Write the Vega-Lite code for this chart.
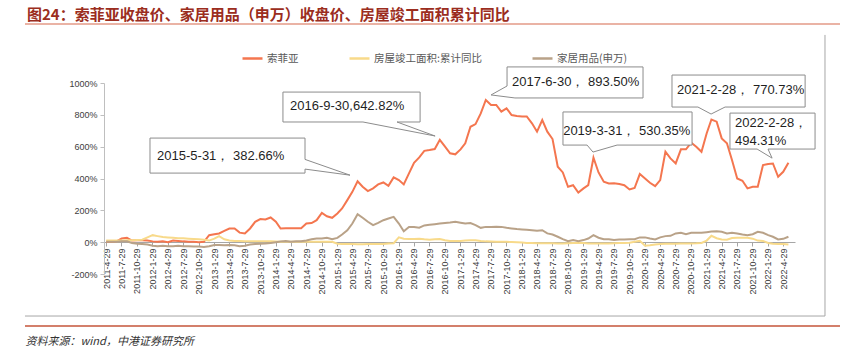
{
"$schema":"https://vega.github.io/schema/vega-lite/v6.json",
"width":691,"height":191,"autosize":"none",
"padding":{"left":104,"top":83,"right":48,"bottom":77},
"background":"#ffffff",
"config":{"view":{"stroke":null},"font":"Liberation Sans"},
"title":{"text":"图24：索菲亚收盘价、家居用品（申万）收盘价、房屋竣工面积累计同比","anchor":"start","frame":"group","dx":-77,"font":"Noto Sans CJK SC","fontSize":15,"fontWeight":"bold","color":"#9B2D20","offset":0},
"datasets":{
"main":[
{"date":"2011-04-30","s":2,"f":10,"j":2},
{"date":"2011-05-31","s":2,"f":10,"j":2},
{"date":"2011-06-30","s":5,"f":10,"j":3},
{"date":"2011-07-31","s":23,"f":10,"j":5},
{"date":"2011-08-31","s":27,"f":12,"j":5},
{"date":"2011-09-30","s":10,"f":12,"j":-5},
{"date":"2011-10-31","s":12,"f":14,"j":-10},
{"date":"2011-11-30","s":12,"f":15,"j":-12},
{"date":"2011-12-31","s":10,"f":30,"j":-15},
{"date":"2012-01-31","s":5,"f":44,"j":-22},
{"date":"2012-02-29","s":2,"f":38,"j":-25},
{"date":"2012-03-31","s":5,"f":32,"j":-23},
{"date":"2012-04-30","s":0,"f":30,"j":-25},
{"date":"2012-05-31","s":10,"f":28,"j":-25},
{"date":"2012-06-30","s":8,"f":25,"j":-22},
{"date":"2012-07-31","s":5,"f":24,"j":-25},
{"date":"2012-08-31","s":3,"f":22,"j":-26},
{"date":"2012-09-30","s":2,"f":20,"j":-27},
{"date":"2012-10-31","s":0,"f":18,"j":-28},
{"date":"2012-11-30","s":2,"f":15,"j":-30},
{"date":"2012-12-31","s":44,"f":10,"j":-25},
{"date":"2013-01-31","s":50,"f":22,"j":-18},
{"date":"2013-02-28","s":55,"f":38,"j":-18},
{"date":"2013-03-31","s":71,"f":18,"j":-20},
{"date":"2013-04-30","s":86,"f":10,"j":-18},
{"date":"2013-05-31","s":86,"f":8,"j":-20},
{"date":"2013-06-30","s":60,"f":7,"j":-25},
{"date":"2013-07-31","s":55,"f":6,"j":-22},
{"date":"2013-08-31","s":86,"f":6,"j":-15},
{"date":"2013-09-30","s":128,"f":6,"j":-12},
{"date":"2013-10-31","s":145,"f":5,"j":-10},
{"date":"2013-11-30","s":143,"f":5,"j":-8},
{"date":"2013-12-31","s":155,"f":5,"j":-5},
{"date":"2014-01-31","s":128,"f":4,"j":0},
{"date":"2014-02-28","s":86,"f":3,"j":5},
{"date":"2014-03-31","s":88,"f":3,"j":7},
{"date":"2014-04-30","s":88,"f":3,"j":2},
{"date":"2014-05-31","s":87,"f":2,"j":5},
{"date":"2014-06-30","s":88,"f":2,"j":6},
{"date":"2014-07-31","s":117,"f":2,"j":11},
{"date":"2014-08-31","s":120,"f":2,"j":18},
{"date":"2014-09-30","s":138,"f":2,"j":23},
{"date":"2014-10-31","s":184,"f":2,"j":23},
{"date":"2014-11-30","s":163,"f":2,"j":27},
{"date":"2014-12-31","s":153,"f":2,"j":18},
{"date":"2015-01-31","s":180,"f":-10,"j":27},
{"date":"2015-02-28","s":212,"f":-12,"j":48},
{"date":"2015-03-31","s":264,"f":-12,"j":75},
{"date":"2015-04-30","s":316,"f":-12,"j":117},
{"date":"2015-05-31","s":382.66,"f":-13,"j":176},
{"date":"2015-06-30","s":348,"f":-13,"j":153},
{"date":"2015-07-31","s":321,"f":-12,"j":128},
{"date":"2015-08-31","s":338,"f":-12,"j":107},
{"date":"2015-09-30","s":363,"f":-12,"j":121},
{"date":"2015-10-31","s":375,"f":-11,"j":138},
{"date":"2015-11-30","s":354,"f":-8,"j":149},
{"date":"2015-12-31","s":407,"f":-7,"j":159},
{"date":"2016-01-31","s":390,"f":30,"j":117},
{"date":"2016-02-29","s":363,"f":22,"j":69},
{"date":"2016-03-31","s":432,"f":20,"j":96},
{"date":"2016-04-30","s":499,"f":20,"j":96},
{"date":"2016-05-31","s":533,"f":22,"j":91},
{"date":"2016-06-30","s":574,"f":18,"j":105},
{"date":"2016-07-31","s":579,"f":15,"j":109},
{"date":"2016-08-31","s":585,"f":18,"j":113},
{"date":"2016-09-30","s":642.82,"f":20,"j":117},
{"date":"2016-10-31","s":600,"f":12,"j":121},
{"date":"2016-11-30","s":558,"f":8,"j":124},
{"date":"2016-12-31","s":552,"f":7,"j":128},
{"date":"2017-01-31","s":583,"f":8,"j":122},
{"date":"2017-02-28","s":621,"f":10,"j":117},
{"date":"2017-03-31","s":725,"f":12,"j":120},
{"date":"2017-04-30","s":742,"f":12,"j":107},
{"date":"2017-05-31","s":809,"f":8,"j":90},
{"date":"2017-06-30","s":893.5,"f":5,"j":96},
{"date":"2017-07-31","s":862,"f":4,"j":96},
{"date":"2017-08-31","s":862,"f":3,"j":97},
{"date":"2017-09-30","s":820,"f":2,"j":96},
{"date":"2017-10-31","s":841,"f":2,"j":90},
{"date":"2017-11-30","s":799,"f":1,"j":86},
{"date":"2017-12-31","s":793,"f":0,"j":82},
{"date":"2018-01-31","s":790,"f":-2,"j":80},
{"date":"2018-02-28","s":790,"f":-5,"j":78},
{"date":"2018-03-31","s":747,"f":-6,"j":75},
{"date":"2018-04-30","s":694,"f":-7,"j":71},
{"date":"2018-05-31","s":767,"f":-7,"j":75},
{"date":"2018-06-30","s":694,"f":-7,"j":55},
{"date":"2018-07-31","s":648,"f":-7,"j":48},
{"date":"2018-08-31","s":474,"f":-8,"j":34},
{"date":"2018-09-30","s":438,"f":-8,"j":19},
{"date":"2018-10-31","s":348,"f":-7,"j":6},
{"date":"2018-11-30","s":358,"f":-6,"j":13},
{"date":"2018-12-31","s":312,"f":-5,"j":6},
{"date":"2019-01-31","s":338,"f":-5,"j":13},
{"date":"2019-02-28","s":358,"f":-8,"j":23},
{"date":"2019-03-31","s":530.35,"f":-8,"j":44},
{"date":"2019-04-30","s":438,"f":-8,"j":28},
{"date":"2019-05-31","s":380,"f":-8,"j":19},
{"date":"2019-06-30","s":369,"f":-8,"j":19},
{"date":"2019-07-31","s":370,"f":-7,"j":13},
{"date":"2019-08-31","s":366,"f":-6,"j":17},
{"date":"2019-09-30","s":358,"f":-6,"j":17},
{"date":"2019-10-31","s":331,"f":-4,"j":19},
{"date":"2019-11-30","s":340,"f":2,"j":19},
{"date":"2019-12-31","s":428,"f":8,"j":30},
{"date":"2020-01-31","s":400,"f":-23,"j":30},
{"date":"2020-02-29","s":373,"f":-20,"j":23},
{"date":"2020-03-31","s":352,"f":-15,"j":17},
{"date":"2020-04-30","s":390,"f":-12,"j":30},
{"date":"2020-05-31","s":568,"f":-10,"j":38},
{"date":"2020-06-30","s":526,"f":-10,"j":40},
{"date":"2020-07-31","s":495,"f":-10,"j":55},
{"date":"2020-08-31","s":583,"f":-9,"j":59},
{"date":"2020-09-30","s":583,"f":-9,"j":50},
{"date":"2020-10-31","s":625,"f":-8,"j":59},
{"date":"2020-11-30","s":600,"f":-7,"j":59},
{"date":"2020-12-31","s":568,"f":-5,"j":59},
{"date":"2021-01-31","s":684,"f":10,"j":63},
{"date":"2021-02-28","s":770.73,"f":40,"j":67},
{"date":"2021-03-31","s":757,"f":25,"j":69},
{"date":"2021-04-30","s":652,"f":17,"j":65},
{"date":"2021-05-31","s":621,"f":15,"j":55},
{"date":"2021-06-30","s":516,"f":26,"j":59},
{"date":"2021-07-31","s":400,"f":27,"j":55},
{"date":"2021-08-31","s":386,"f":27,"j":48},
{"date":"2021-09-30","s":338,"f":27,"j":44},
{"date":"2021-10-31","s":348,"f":22,"j":50},
{"date":"2021-11-30","s":348,"f":10,"j":65},
{"date":"2021-12-31","s":484,"f":8,"j":59},
{"date":"2022-01-31","s":491,"f":-5,"j":44},
{"date":"2022-02-28","s":494.31,"f":-10,"j":34},
{"date":"2022-03-31","s":411,"f":-12,"j":17},
{"date":"2022-04-30","s":442,"f":-12,"j":21},
{"date":"2022-05-31","s":499,"f":-15,"j":34}
],
"boxes":[
{"date":"2012-01-15","date2":"2014-07-23","value":434,"value2":654},
{"date":"2014-03-14","date2":"2016-06-05","value":755,"value2":943},
{"date":"2017-11-03","date2":"2020-01-19","value":906,"value2":1101},
{"date":"2018-10-01","date2":"2020-11-05","value":610,"value2":818},
{"date":"2020-07-09","date2":"2022-09-07","value":849,"value2":1050},
{"date":"2021-06-18","date2":"2022-11-05","value":585,"value2":811}
],
"callouts":[
{"id":1,"k":1,"date":"2012-01-15","value":654},
{"id":1,"k":2,"date":"2014-07-23","value":654},
{"id":1,"k":3,"date":"2014-07-23","value":520},
{"id":1,"k":4,"date":"2015-04-16","value":421},
{"id":1,"k":5,"date":"2014-07-23","value":459},
{"id":1,"k":6,"date":"2014-07-23","value":434},
{"id":1,"k":7,"date":"2012-01-15","value":434},
{"id":1,"k":8,"date":"2012-01-15","value":654},
{"id":2,"k":1,"date":"2014-03-14","value":943},
{"id":2,"k":2,"date":"2016-06-05","value":943},
{"id":2,"k":3,"date":"2016-06-05","value":755},
{"id":2,"k":4,"date":"2016-01-20","value":755},
{"id":2,"k":5,"date":"2016-09-02","value":667},
{"id":2,"k":6,"date":"2015-07-02","value":755},
{"id":2,"k":7,"date":"2014-03-14","value":755},
{"id":2,"k":8,"date":"2014-03-14","value":943},
{"id":3,"k":1,"date":"2017-11-03","value":1101},
{"id":3,"k":2,"date":"2020-01-19","value":1101},
{"id":3,"k":3,"date":"2020-01-19","value":906},
{"id":3,"k":4,"date":"2017-12-20","value":906},
{"id":3,"k":5,"date":"2017-07-31","value":925},
{"id":3,"k":6,"date":"2017-11-03","value":981},
{"id":3,"k":7,"date":"2017-11-03","value":1101},
{"id":4,"k":1,"date":"2018-10-01","value":818},
{"id":4,"k":2,"date":"2020-11-05","value":818},
{"id":4,"k":3,"date":"2020-11-05","value":610},
{"id":4,"k":4,"date":"2019-08-18","value":610},
{"id":4,"k":5,"date":"2019-03-28","value":566},
{"id":4,"k":6,"date":"2019-02-21","value":610},
{"id":4,"k":7,"date":"2018-10-01","value":610},
{"id":4,"k":8,"date":"2018-10-01","value":818},
{"id":5,"k":1,"date":"2020-07-09","value":1050},
{"id":5,"k":2,"date":"2022-09-07","value":1050},
{"id":5,"k":3,"date":"2022-09-07","value":849},
{"id":5,"k":4,"date":"2021-05-20","value":849},
{"id":5,"k":5,"date":"2021-02-26","value":805},
{"id":5,"k":6,"date":"2020-12-10","value":849},
{"id":5,"k":7,"date":"2020-07-09","value":849},
{"id":5,"k":8,"date":"2020-07-09","value":1050},
{"id":6,"k":1,"date":"2021-06-18","value":811},
{"id":6,"k":2,"date":"2022-11-05","value":811},
{"id":6,"k":3,"date":"2022-11-05","value":585},
{"id":6,"k":4,"date":"2022-01-30","value":585},
{"id":6,"k":5,"date":"2022-02-23","value":528},
{"id":6,"k":6,"date":"2021-11-26","value":585},
{"id":6,"k":7,"date":"2021-06-18","value":585},
{"id":6,"k":8,"date":"2021-06-18","value":811}
],
"labels":[
{"date":"2012-02-26","value":541,"label":"2015-5-31， 382.66%"},
{"date":"2014-04-25","value":855,"label":"2016-9-30,642.82%"},
{"date":"2017-12-03","value":1006,"label":"2017-6-30， 893.50%"},
{"date":"2018-10-02","value":700,"label":"2019-3-31， 530.35%"},
{"date":"2020-08-08","value":956,"label":"2021-2-28， 770.73%"},
{"date":"2021-07-18","value":748,"label":"2022-2-28，"},
{"date":"2021-07-18","value":635,"label":"494.31%"}
]
},
"encoding":{
"x":{"field":"date","type":"temporal",
"scale":{"type":"utc","domain":[{"year":2011,"month":4,"date":17,"utc":true},{"year":2022,"month":7,"date":9,"utc":true}]},
"axis":{"orient":"bottom","offset":-32,
"values":[{"year":2011,"month":4,"date":29,"utc":true},{"year":2011,"month":7,"date":29,"utc":true},{"year":2011,"month":10,"date":29,"utc":true},
{"year":2012,"month":1,"date":29,"utc":true},{"year":2012,"month":4,"date":29,"utc":true},{"year":2012,"month":7,"date":29,"utc":true},{"year":2012,"month":10,"date":29,"utc":true},
{"year":2013,"month":1,"date":29,"utc":true},{"year":2013,"month":4,"date":29,"utc":true},{"year":2013,"month":7,"date":29,"utc":true},{"year":2013,"month":10,"date":29,"utc":true},
{"year":2014,"month":1,"date":29,"utc":true},{"year":2014,"month":4,"date":29,"utc":true},{"year":2014,"month":7,"date":29,"utc":true},{"year":2014,"month":10,"date":29,"utc":true},
{"year":2015,"month":1,"date":29,"utc":true},{"year":2015,"month":4,"date":29,"utc":true},{"year":2015,"month":7,"date":29,"utc":true},{"year":2015,"month":10,"date":29,"utc":true},
{"year":2016,"month":1,"date":29,"utc":true},{"year":2016,"month":4,"date":29,"utc":true},{"year":2016,"month":7,"date":29,"utc":true},{"year":2016,"month":10,"date":29,"utc":true},
{"year":2017,"month":1,"date":29,"utc":true},{"year":2017,"month":4,"date":29,"utc":true},{"year":2017,"month":7,"date":29,"utc":true},{"year":2017,"month":10,"date":29,"utc":true},
{"year":2018,"month":1,"date":29,"utc":true},{"year":2018,"month":4,"date":29,"utc":true},{"year":2018,"month":7,"date":29,"utc":true},{"year":2018,"month":10,"date":29,"utc":true},
{"year":2019,"month":1,"date":29,"utc":true},{"year":2019,"month":4,"date":29,"utc":true},{"year":2019,"month":7,"date":29,"utc":true},{"year":2019,"month":10,"date":29,"utc":true},
{"year":2020,"month":1,"date":29,"utc":true},{"year":2020,"month":4,"date":29,"utc":true},{"year":2020,"month":7,"date":29,"utc":true},{"year":2020,"month":10,"date":29,"utc":true},
{"year":2021,"month":1,"date":29,"utc":true},{"year":2021,"month":4,"date":29,"utc":true},{"year":2021,"month":7,"date":29,"utc":true},{"year":2021,"month":10,"date":29,"utc":true},
{"year":2022,"month":1,"date":29,"utc":true},{"year":2022,"month":4,"date":29,"utc":true}],
"labelExpr":"utcFormat(datum.value,'%Y-%-m-%-d')","labelAngle":-90,"labelFontSize":9,"labelColor":"#404040","labelPadding":2,"labelOverlap":false,"labelBound":false,"labelFlush":false,
"tickSize":4,"tickColor":"#A6A6A6","domainColor":"#A6A6A6","grid":false,
"title":"资料来源：wind，中港证券研究所","titleX":-79,"titleY":99,"titleAlign":"left","titleBaseline":"middle","titleAngle":0,
"titleFont":"Noto Sans CJK SC","titleFontSize":11,"titleFontStyle":"italic","titleFontWeight":"normal","titleColor":"#333333"}},
"y":{"field":"value","type":"quantitative","scale":{"domain":[-200,1000],"nice":false,"zero":false},
"axis":{"values":[-200,0,200,400,600,800,1000],"labelExpr":"datum.value+'%'","labelFontSize":9,"labelColor":"#404040","labelPadding":3,"tickSize":4,"tickColor":"#BFBFBF","domainColor":"#BFBFBF","grid":false,"title":null}}
},
"layer":[
{"data":{"values":[{"date":"2010-01-03","date2":"2023-04-02","value":1371}]},"mark":{"type":"rule","color":"#E39A87","strokeWidth":1.5},"encoding":{"x2":{"field":"date2"}}},
{"data":{"values":[{"date":"2010-01-03","date2":"2023-04-02","value":-527}]},"mark":{"type":"rule","color":"#C4553A","strokeWidth":1.5},"encoding":{"x2":{"field":"date2"}}},
{"data":{"values":[{"date":"2010-01-03","date2":"2023-01-03","value":-464}]},"mark":{"type":"rule","color":"#A6A6A6","strokeWidth":1}, "encoding":{"x2":{"field":"date2"}}},
{"data":{"values":[{"date":"2023-01-03","value":-464,"value2":1302}]},"mark":{"type":"rule","color":"#A6A6A6","strokeWidth":1},"encoding":{"y2":{"field":"value2"}}},
{"data":{"name":"main"},"transform":[{"fold":["s","f","j"],"as":["series","value"]}],
"mark":{"type":"line","strokeWidth":2},
"encoding":{"color":{"field":"series","type":"nominal","scale":{"domain":["s","f","j"],"range":["#F4764F","#F8DA8A","#B9A288"]},
"legend":{"orient":"none","legendX":137,"legendY":-36,"direction":"horizontal","title":null,"symbolType":"stroke","symbolSize":400,"symbolStrokeWidth":2.5,"labelFont":"Noto Sans CJK SC","labelFontSize":10.5,"labelColor":"#595959","columnPadding":45,"labelOffset":3,"padding":0,
"labelExpr":"datum.label=='s'?'索菲亚':datum.label=='f'?'房屋竣工面积:累计同比':'家居用品(申万)'"}}}},
{"data":{"name":"boxes"},"mark":{"type":"rect","fill":"#ffffff"},"encoding":{"x2":{"field":"date2"},"y2":{"field":"value2"}}},
{"data":{"name":"callouts"},"mark":{"type":"line","color":"#8C8C8C","strokeWidth":1},"encoding":{"detail":{"field":"id","type":"nominal"},"order":{"field":"k","type":"quantitative"}}},
{"data":{"name":"labels"},"mark":{"type":"text","align":"left","baseline":"middle","fontSize":13,"font":"Liberation Sans","color":"#1F1F1F"},"encoding":{"text":{"field":"label"}}}
]
}
